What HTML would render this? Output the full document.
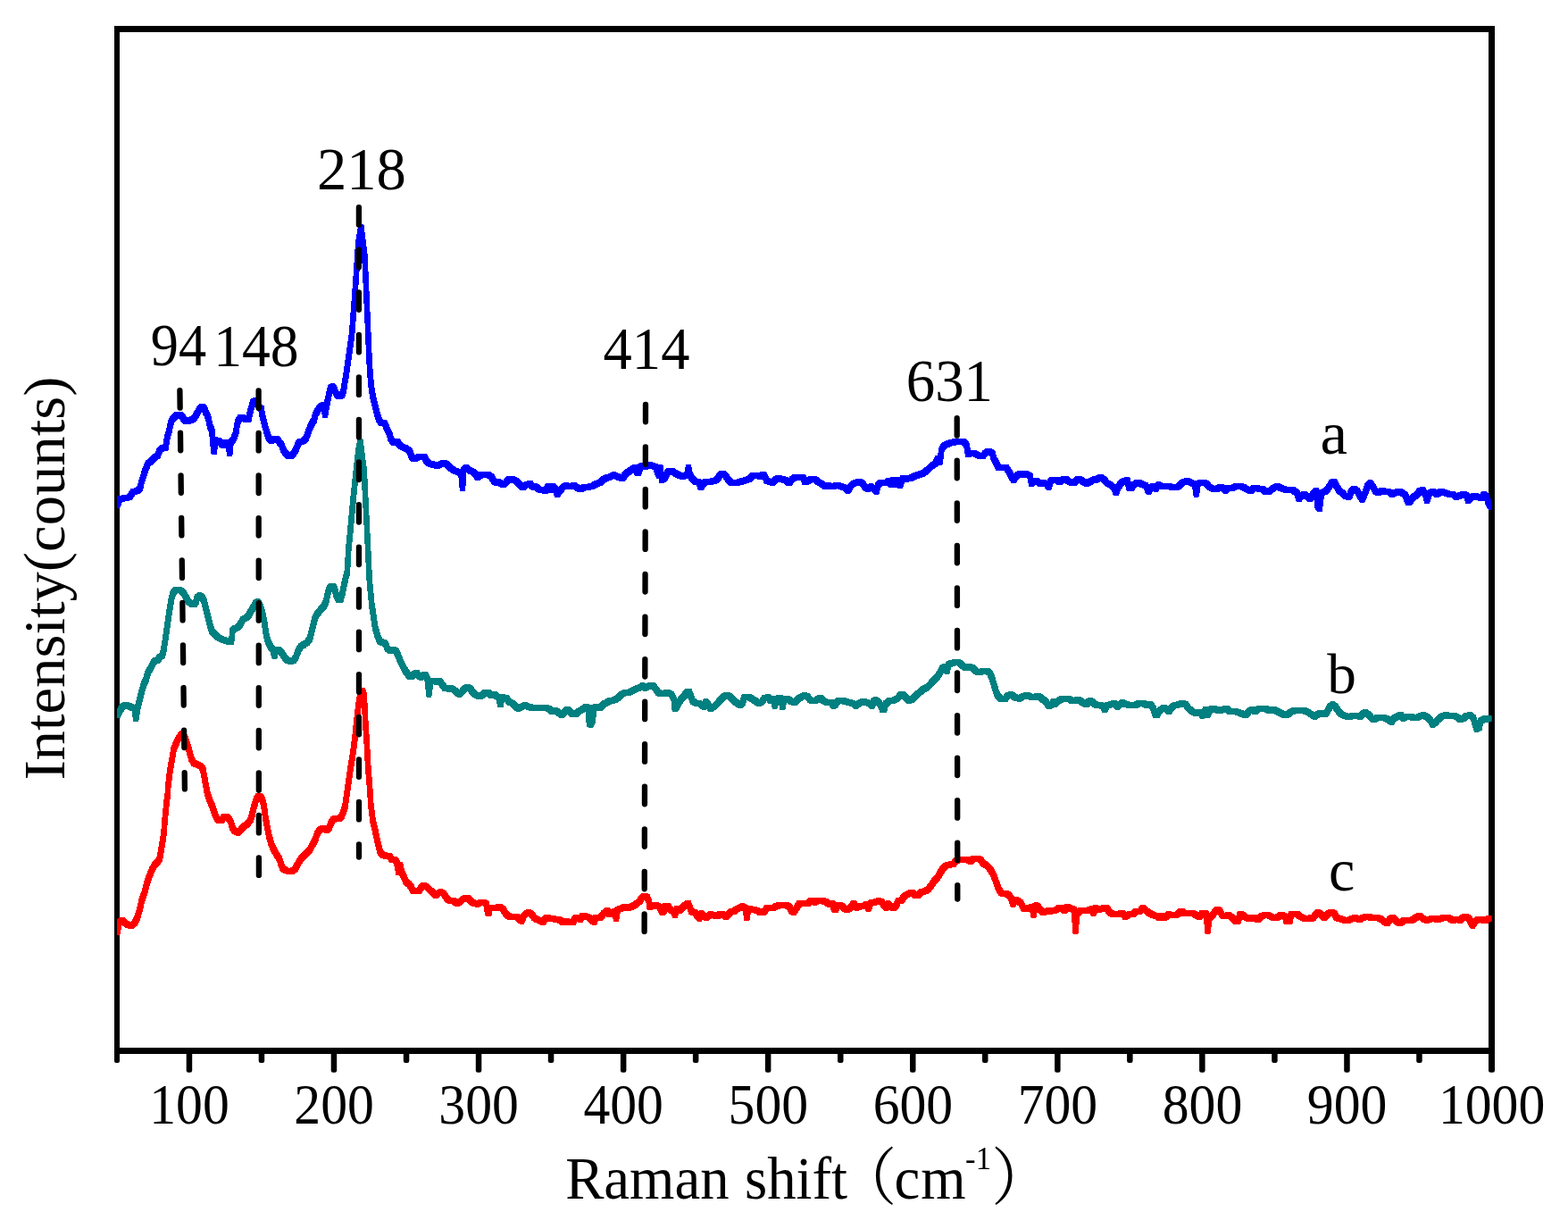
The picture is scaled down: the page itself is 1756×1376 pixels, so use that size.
<!DOCTYPE html>
<html lang="en"><head><meta charset="utf-8"><title>Raman spectra</title>
<style>
html,body{margin:0;padding:0;background:#fff;}
body{width:1756px;height:1376px;overflow:hidden;}
svg{display:block;}
text{font-family:"Liberation Serif","Noto Serif CJK SC",serif;fill:#000;}
.c{fill:none;stroke-width:2;stroke-linejoin:round;stroke-linecap:butt;}
.d{fill:none;stroke:#000;stroke-width:6.3;stroke-linecap:round;stroke-dasharray:19.5 28.05;}
</style></head><body>
<svg width="1756" height="1376" viewBox="0 0 1756 1376">
<defs><filter id="pen" filterUnits="userSpaceOnUse" x="0" y="0" width="1756" height="1376"><feMorphology operator="dilate" radius="2 2" result="d"/><feOffset in="d" dy="1" result="o"/><feMerge><feMergeNode in="d"/><feMergeNode in="o"/></feMerge><feComponentTransfer><feFuncA type="discrete" tableValues="0 1"/></feComponentTransfer></filter><clipPath id="plot"><rect x="131" y="32.5" width="1539.5" height="1144"/></clipPath></defs>
<rect width="1756" height="1376" fill="#fff"/>
<g fill="#000">
<rect x="128" y="29" width="6" height="1159" rx="0"/>
<rect x="128" y="1180" width="6" height="10" rx="2"/>
<rect x="1667" y="29" width="7" height="1168"/>
<rect x="1667" y="1180" width="7" height="20.8" rx="2.5"/>
<rect x="128" y="29" width="1546" height="7"/>
<rect x="128" y="1173" width="1546" height="7"/>
<rect x="208.7" y="1176" width="6.5" height="24.8" rx="2.2"/>
<rect x="289.7" y="1176" width="6.5" height="13.9" rx="2.2"/>
<rect x="370.7" y="1176" width="6.5" height="24.8" rx="2.2"/>
<rect x="451.8" y="1176" width="6.5" height="13.9" rx="2.2"/>
<rect x="532.8" y="1176" width="6.5" height="24.8" rx="2.2"/>
<rect x="613.8" y="1176" width="6.5" height="13.9" rx="2.2"/>
<rect x="694.9" y="1176" width="6.5" height="24.8" rx="2.2"/>
<rect x="775.9" y="1176" width="6.5" height="13.9" rx="2.2"/>
<rect x="856.9" y="1176" width="6.5" height="24.8" rx="2.2"/>
<rect x="938.0" y="1176" width="6.5" height="13.9" rx="2.2"/>
<rect x="1019.0" y="1176" width="6.5" height="24.8" rx="2.2"/>
<rect x="1100.0" y="1176" width="6.5" height="13.9" rx="2.2"/>
<rect x="1181.1" y="1176" width="6.5" height="24.8" rx="2.2"/>
<rect x="1262.1" y="1176" width="6.5" height="13.9" rx="2.2"/>
<rect x="1343.1" y="1176" width="6.5" height="24.8" rx="2.2"/>
<rect x="1424.2" y="1176" width="6.5" height="13.9" rx="2.2"/>
<rect x="1505.2" y="1176" width="6.5" height="24.8" rx="2.2"/>
<rect x="1586.2" y="1176" width="6.5" height="13.9" rx="2.2"/>
</g>
<g clip-path="url(#plot)">
<polyline fill="none" stroke-linejoin="round" stroke-width="4.6" stroke="#0000ff" points="131.5,566 133.8,558.8 141.3,557.6 145.1,556.6 149.4,550.3 154.4,549.7 157,546.6 158.2,540.3 160.7,532.8 162,527.8 163.8,524 165.7,519 170.7,515.2 173.2,512.1 176.4,510.2 178.9,504 182,501.5 185.2,502.1 186.4,495.2 187.7,487.7 189.5,482.7 190.8,475.1 192.7,470.1 195.2,467 197.7,464.5 200.8,463.9 203.9,466.4 206.5,470.1 209,472 212.7,470.8 217.1,468.9 220.2,463.9 222.1,460.1 224.6,456.3 227.1,455.1 229,457 230.3,461.4 232.8,466.4 234,471.4 235.3,477.6 237.2,481.4 237.8,487.7 238.4,495.2 239.7,505.8 241.3,492.7 245.9,493.9 248.4,497.7 250.9,498.3 252.8,495.2 255.5,496.4 257.2,507.7 258.5,495.2 261.6,491.4 264.1,485.2 265.4,476.4 266.6,471.4 269.1,467.6 271.6,467 274.7,469.5 278.5,469.5 279.8,462.6 281.6,456.3 283.5,450.1 286,448.2 287.9,451.3 290.4,456.3 292.9,457.6 293.5,463.9 295.4,471.4 297.3,478.9 299.2,485.2 301.1,490.8 303.6,493.3 306.7,492.1 310.5,491.4 313,495.2 315.5,498.3 317.4,504 319.9,507.7 323,510.2 326.1,510.2 329.3,507.1 331.8,502.7 333.6,497.7 335.5,494.6 339.3,493.9 342.5,491.4 345.6,482.7 348.8,475.1 351.9,470.1 353.2,463.9 356.3,458.8 359.4,454.5 362.4,453.8 364.1,464.5 365.8,453.8 368.2,442.6 370.1,434.4 372.6,432.5 375.1,437.5 377.6,442.6 380.1,443.8 383.2,442.6 384.9,436.3 386.2,427.5 387.6,420 394,375.3 398.3,317.2 401.2,273.6 404.4,254.4 408.5,288.1 411.1,346.3 413.6,404.4 414.6,420 415.8,432.5 417.7,445.1 420.2,455.1 422.1,462.6 424.6,470.1 426.5,473.3 430.9,473.9 433.4,480.2 435.9,485.2 437.7,491.4 440.3,495.2 444.6,493.9 447.1,497.7 450.3,500.2 454.7,502.1 459,505.2 460.9,511.5 463.4,514 466.6,512.7 469.1,511.5 475.3,511.5 477.8,516.5 481,519 485.4,520.3 490.4,521.5 494.8,519 498.5,518.4 501.7,521.5 505.4,524.6 510.4,527.8 514.8,528.4 516.7,532.8 518,546.6 519.2,526.5 522.3,523.4 525.5,526.5 529.8,528.4 533,531.5 534.9,534.7 538,532.2 541.8,530.9 546.8,531.5 550.5,534 553,538.4 555.5,540.3 557.4,539.2 560.4,540.7 563.3,542.9 566.3,540.7 569.2,537 574.4,536.7 578.1,538.5 581.8,542.2 585.5,545.9 589.2,542.9 593.7,541.4 596.6,545.1 600.3,545.1 604,548.1 608.5,548.8 610.7,549.6 613.7,544.4 615.9,548.8 618.8,544.4 621.8,547.4 624,554 626.3,550.3 630.7,545.1 633.7,543.7 638.1,544.4 643.3,543.7 647,546.6 649.9,548.1 653.6,545.9 659.6,545.1 664.7,543.7 668.4,541.4 672.9,540 676.6,536.3 679.6,534.8 683.3,534 687,531.8 690.7,533.3 694.4,534.8 697.3,535.5 700.3,531.1 704,528.1 708.4,525.1 711.4,523.7 713.6,529.6 715.1,529.6 717.3,522.2 720.3,521.4 723.2,522.2 727.7,520.7 734.5,522.9 737.8,532.5 739.5,523.7 741.2,537.7 745.4,534 747.7,528.1 752.8,527.4 756.5,530.3 760.2,531.8 763.9,533.3 769.3,532.5 771,523.7 772.7,532.5 776.5,537 779.5,540 782.5,539.2 784.7,545.9 786.9,542.9 789.9,539.2 795.8,539.2 800,538.5 803.7,536.3 806.7,531.1 809.6,530.3 812.6,532.5 815.5,537 819.2,540.7 824.4,540.7 829.6,539.2 834.8,537.7 839.2,536.3 842.9,532.5 847.4,532.5 851.1,533.3 854.8,531.1 857,534 858.5,538.5 862.2,539.2 865.1,540.7 868.1,537 871.1,535.5 875.5,536.3 880,537.7 883.7,540.7 887.4,536.3 891.1,534 895.5,534.8 899.2,534 901.4,540 904.4,538.5 908.8,536.3 913.3,537 917,540 920.7,542.2 925.1,545.1 928.1,543.7 933.3,545.1 937,542.9 940.7,544.4 945.8,545.9 949.5,549.6 952.5,544.4 955.5,541.4 959.9,540 964.3,540 967.3,542.9 969.5,546.6 972.5,547.4 975.5,544.4 978.4,547.4 981.4,550.3 983.6,542.9 986.6,540 992.5,540.7 995.4,538.5 997.7,542.2 999.9,537 1002.8,542.9 1005.1,537.7 1008,543.7 1011,535.5 1013.9,536.3 1019.1,535.5 1023.6,533.3 1028,531.8 1033.2,530.3 1038.4,526.6 1042.8,522.2 1047.3,519.2 1050.2,513.3 1052.4,517.7 1053.9,507.4 1054.1,504.4 1056.7,499.2 1061.1,497 1065.5,495.5 1070,494.8 1074.4,494.1 1079.6,494.8 1082.6,498.5 1084.1,508.9 1087.8,507.4 1092.2,508.1 1096.6,510.3 1100.3,511.1 1103.3,507.4 1107,505.2 1111.4,507.4 1112.9,513.3 1115.9,518.5 1118.1,523.7 1122.5,523.7 1126.3,522.9 1129.2,526.6 1132.2,532.5 1135.1,537.7 1137.4,534 1140.3,531.1 1144.8,530.8 1149.9,531.1 1153.6,532.5 1155.1,541.4 1158.1,538.5 1161,538.5 1164.7,541.4 1168.4,540.7 1172.1,541.4 1174.4,545.1 1176.6,538.5 1180.3,537 1184,537.7 1187,540 1189.9,537 1193.6,536.3 1197.3,539.2 1200.3,540.7 1204,540 1206.2,537 1209.2,536.3 1212.9,539.2 1217.3,541.4 1221,539.2 1224.7,537 1228.4,537 1232.1,534 1236.6,537 1239.5,540.7 1244,542.9 1247.7,546.6 1249.9,551.8 1252.1,545.9 1255.1,541.4 1258.8,538.5 1262.5,537.7 1264.7,546.6 1266.9,546.6 1270.6,542.2 1274.3,540 1278.8,542.2 1283.2,543.7 1286.2,550.3 1288.4,547.4 1291.3,544.4 1294.3,547.4 1297.3,542.9 1300,544.4 1304.4,545.1 1308.9,544.4 1313.3,545.9 1319.2,545.1 1322.9,541.4 1326.7,539.2 1330.4,538.5 1334.1,540.7 1338,541.4 1339.8,553.3 1341.5,541.4 1347.4,540 1351.1,541.4 1354,545.1 1358.5,547.4 1362.2,548.1 1366.6,545.1 1370.3,546.6 1372.5,549.6 1375.5,546.6 1380.7,545.9 1384.4,544.4 1388.8,544.4 1393.3,545.9 1397,548.1 1400.7,549.6 1404.4,546.6 1407.3,545.9 1411,548.1 1414,547.4 1417.7,551.1 1421.4,550.3 1425.9,546.6 1430.3,544.4 1434.7,546.6 1439.2,548.1 1443.6,548.5 1448.1,548.8 1452.5,551.8 1454.7,558.5 1457.7,554.8 1460.6,553.3 1464.3,556.2 1467.3,558.5 1470.3,553.3 1474,549.6 1475.5,566.6 1477.7,569.6 1479.9,551.8 1484.3,550.3 1488,545.9 1491,540.7 1494,539.2 1496.9,544.4 1499.9,549.6 1503.6,551.8 1506.5,555.5 1511,556.2 1513.2,550.3 1516.2,547.4 1519.9,549.6 1522.8,554.8 1525.8,559.2 1528.8,551.8 1531.7,543.7 1534.7,540.7 1537.6,545.1 1540.6,550.3 1543.6,551.8 1547.3,549.6 1551.7,550.3 1555.2,550.3 1558.9,553.3 1562.6,551.8 1566.3,550.3 1570,551.8 1573.7,554 1576.7,562.2 1578.9,562.2 1582.6,556.2 1586.3,554.8 1590,549.6 1593.7,548.8 1596.7,554.8 1598.2,560.7 1600.4,552.5 1604.8,550.3 1609.3,553.3 1613.7,550.3 1618.1,551.8 1622.6,553.3 1627,553.3 1630.7,556.2 1635.2,554.8 1638.9,553.3 1642.6,554.8 1644.1,560.7 1646.3,557.7 1650,555.5 1655.2,556.2 1658.9,557.7 1661.8,553.3 1664.8,556.2 1667,563.6 1670.4,568.8"/>
<polyline class="c" filter="url(#pen)" transform="translate(0,-0.5)" stroke="#0000ff" points="131.5,566 133.8,558.8 141.3,557.6 145.1,556.6 149.4,550.3 154.4,549.7 157,546.6 158.2,540.3 160.7,532.8 162,527.8 163.8,524 165.7,519 170.7,515.2 173.2,512.1 176.4,510.2 178.9,504 182,501.5 185.2,502.1 186.4,495.2 187.7,487.7 189.5,482.7 190.8,475.1 192.7,470.1 195.2,467 197.7,464.5 200.8,463.9 203.9,466.4 206.5,470.1 209,472 212.7,470.8 217.1,468.9 220.2,463.9 222.1,460.1 224.6,456.3 227.1,455.1 229,457 230.3,461.4 232.8,466.4 234,471.4 235.3,477.6 237.2,481.4 237.8,487.7 238.4,495.2 239.7,505.8 241.3,492.7 245.9,493.9 248.4,497.7 250.9,498.3 252.8,495.2 255.5,496.4 257.2,507.7 258.5,495.2 261.6,491.4 264.1,485.2 265.4,476.4 266.6,471.4 269.1,467.6 271.6,467 274.7,469.5 278.5,469.5 279.8,462.6 281.6,456.3 283.5,450.1 286,448.2 287.9,451.3 290.4,456.3 292.9,457.6 293.5,463.9 295.4,471.4 297.3,478.9 299.2,485.2 301.1,490.8 303.6,493.3 306.7,492.1 310.5,491.4 313,495.2 315.5,498.3 317.4,504 319.9,507.7 323,510.2 326.1,510.2 329.3,507.1 331.8,502.7 333.6,497.7 335.5,494.6 339.3,493.9 342.5,491.4 345.6,482.7 348.8,475.1 351.9,470.1 353.2,463.9 356.3,458.8 359.4,454.5 362.4,453.8 364.1,464.5 365.8,453.8 368.2,442.6 370.1,434.4 372.6,432.5 375.1,437.5 377.6,442.6 380.1,443.8 383.2,442.6 384.9,436.3 386.2,427.5 387.6,420 394,375.3 398.3,317.2 401.2,273.6 404.4,254.4 408.5,288.1 411.1,346.3 413.6,404.4 414.6,420 415.8,432.5 417.7,445.1 420.2,455.1 422.1,462.6 424.6,470.1 426.5,473.3 430.9,473.9 433.4,480.2 435.9,485.2 437.7,491.4 440.3,495.2 444.6,493.9 447.1,497.7 450.3,500.2 454.7,502.1 459,505.2 460.9,511.5 463.4,514 466.6,512.7 469.1,511.5 475.3,511.5 477.8,516.5 481,519 485.4,520.3 490.4,521.5 494.8,519 498.5,518.4 501.7,521.5 505.4,524.6 510.4,527.8 514.8,528.4 516.7,532.8 518,546.6 519.2,526.5 522.3,523.4 525.5,526.5 529.8,528.4 533,531.5 534.9,534.7 538,532.2 541.8,530.9 546.8,531.5 550.5,534 553,538.4 555.5,540.3 557.4,539.2 560.4,540.7 563.3,542.9 566.3,540.7 569.2,537 574.4,536.7 578.1,538.5 581.8,542.2 585.5,545.9 589.2,542.9 593.7,541.4 596.6,545.1 600.3,545.1 604,548.1 608.5,548.8 610.7,549.6 613.7,544.4 615.9,548.8 618.8,544.4 621.8,547.4 624,554 626.3,550.3 630.7,545.1 633.7,543.7 638.1,544.4 643.3,543.7 647,546.6 649.9,548.1 653.6,545.9 659.6,545.1 664.7,543.7 668.4,541.4 672.9,540 676.6,536.3 679.6,534.8 683.3,534 687,531.8 690.7,533.3 694.4,534.8 697.3,535.5 700.3,531.1 704,528.1 708.4,525.1 711.4,523.7 713.6,529.6 715.1,529.6 717.3,522.2 720.3,521.4 723.2,522.2 727.7,520.7 734.5,522.9 737.8,532.5 739.5,523.7 741.2,537.7 745.4,534 747.7,528.1 752.8,527.4 756.5,530.3 760.2,531.8 763.9,533.3 769.3,532.5 771,523.7 772.7,532.5 776.5,537 779.5,540 782.5,539.2 784.7,545.9 786.9,542.9 789.9,539.2 795.8,539.2 800,538.5 803.7,536.3 806.7,531.1 809.6,530.3 812.6,532.5 815.5,537 819.2,540.7 824.4,540.7 829.6,539.2 834.8,537.7 839.2,536.3 842.9,532.5 847.4,532.5 851.1,533.3 854.8,531.1 857,534 858.5,538.5 862.2,539.2 865.1,540.7 868.1,537 871.1,535.5 875.5,536.3 880,537.7 883.7,540.7 887.4,536.3 891.1,534 895.5,534.8 899.2,534 901.4,540 904.4,538.5 908.8,536.3 913.3,537 917,540 920.7,542.2 925.1,545.1 928.1,543.7 933.3,545.1 937,542.9 940.7,544.4 945.8,545.9 949.5,549.6 952.5,544.4 955.5,541.4 959.9,540 964.3,540 967.3,542.9 969.5,546.6 972.5,547.4 975.5,544.4 978.4,547.4 981.4,550.3 983.6,542.9 986.6,540 992.5,540.7 995.4,538.5 997.7,542.2 999.9,537 1002.8,542.9 1005.1,537.7 1008,543.7 1011,535.5 1013.9,536.3 1019.1,535.5 1023.6,533.3 1028,531.8 1033.2,530.3 1038.4,526.6 1042.8,522.2 1047.3,519.2 1050.2,513.3 1052.4,517.7 1053.9,507.4 1054.1,504.4 1056.7,499.2 1061.1,497 1065.5,495.5 1070,494.8 1074.4,494.1 1079.6,494.8 1082.6,498.5 1084.1,508.9 1087.8,507.4 1092.2,508.1 1096.6,510.3 1100.3,511.1 1103.3,507.4 1107,505.2 1111.4,507.4 1112.9,513.3 1115.9,518.5 1118.1,523.7 1122.5,523.7 1126.3,522.9 1129.2,526.6 1132.2,532.5 1135.1,537.7 1137.4,534 1140.3,531.1 1144.8,530.8 1149.9,531.1 1153.6,532.5 1155.1,541.4 1158.1,538.5 1161,538.5 1164.7,541.4 1168.4,540.7 1172.1,541.4 1174.4,545.1 1176.6,538.5 1180.3,537 1184,537.7 1187,540 1189.9,537 1193.6,536.3 1197.3,539.2 1200.3,540.7 1204,540 1206.2,537 1209.2,536.3 1212.9,539.2 1217.3,541.4 1221,539.2 1224.7,537 1228.4,537 1232.1,534 1236.6,537 1239.5,540.7 1244,542.9 1247.7,546.6 1249.9,551.8 1252.1,545.9 1255.1,541.4 1258.8,538.5 1262.5,537.7 1264.7,546.6 1266.9,546.6 1270.6,542.2 1274.3,540 1278.8,542.2 1283.2,543.7 1286.2,550.3 1288.4,547.4 1291.3,544.4 1294.3,547.4 1297.3,542.9 1300,544.4 1304.4,545.1 1308.9,544.4 1313.3,545.9 1319.2,545.1 1322.9,541.4 1326.7,539.2 1330.4,538.5 1334.1,540.7 1338,541.4 1339.8,553.3 1341.5,541.4 1347.4,540 1351.1,541.4 1354,545.1 1358.5,547.4 1362.2,548.1 1366.6,545.1 1370.3,546.6 1372.5,549.6 1375.5,546.6 1380.7,545.9 1384.4,544.4 1388.8,544.4 1393.3,545.9 1397,548.1 1400.7,549.6 1404.4,546.6 1407.3,545.9 1411,548.1 1414,547.4 1417.7,551.1 1421.4,550.3 1425.9,546.6 1430.3,544.4 1434.7,546.6 1439.2,548.1 1443.6,548.5 1448.1,548.8 1452.5,551.8 1454.7,558.5 1457.7,554.8 1460.6,553.3 1464.3,556.2 1467.3,558.5 1470.3,553.3 1474,549.6 1475.5,566.6 1477.7,569.6 1479.9,551.8 1484.3,550.3 1488,545.9 1491,540.7 1494,539.2 1496.9,544.4 1499.9,549.6 1503.6,551.8 1506.5,555.5 1511,556.2 1513.2,550.3 1516.2,547.4 1519.9,549.6 1522.8,554.8 1525.8,559.2 1528.8,551.8 1531.7,543.7 1534.7,540.7 1537.6,545.1 1540.6,550.3 1543.6,551.8 1547.3,549.6 1551.7,550.3 1555.2,550.3 1558.9,553.3 1562.6,551.8 1566.3,550.3 1570,551.8 1573.7,554 1576.7,562.2 1578.9,562.2 1582.6,556.2 1586.3,554.8 1590,549.6 1593.7,548.8 1596.7,554.8 1598.2,560.7 1600.4,552.5 1604.8,550.3 1609.3,553.3 1613.7,550.3 1618.1,551.8 1622.6,553.3 1627,553.3 1630.7,556.2 1635.2,554.8 1638.9,553.3 1642.6,554.8 1644.1,560.7 1646.3,557.7 1650,555.5 1655.2,556.2 1658.9,557.7 1661.8,553.3 1664.8,556.2 1667,563.6 1670.4,568.8"/>
<polyline fill="none" stroke-linejoin="round" stroke-width="4.6" stroke="#008080" points="131.5,801.7 133.8,796.6 136.9,791.6 140.7,789.1 144.4,790.4 148.2,792.3 150.7,792.9 152.2,804.8 153.9,794.1 155.7,786.6 157.6,779.1 159.5,771.6 161.3,765.3 163.8,760.3 165.7,752.8 168.2,749 170.7,744 172.6,740.3 176.4,739 179.5,735.2 182,733.4 183.3,727.7 184.5,720.2 185.8,711.4 187,702.7 188.3,693.9 189.5,685.1 190.8,677.6 192,670.1 193.9,663.8 196.4,660.7 199.6,660.1 202.7,661.3 205.8,664.4 208.3,668.8 210.8,673.2 214,675.7 217.7,677 219.6,673.8 220.9,668.8 223.4,666.9 225.9,668.2 228.4,672.6 230.3,680.1 232.1,687.6 234,695.1 235.9,702.7 237.8,707.7 241.5,710.8 244.7,713.9 248.4,715.8 252.8,717.1 256,718.3 258.5,718.9 259.7,713.9 260.3,706.4 262.2,703.9 266,702.7 268.5,700.2 270.4,696.4 272.2,693.3 276,691.4 278.5,688.9 280.4,685.1 282.9,681.4 284.8,677.6 286.7,674.5 288.5,673.8 290.4,676.3 292.3,681.4 294.2,687.6 296.1,696.4 297.3,705.2 298.6,712.7 300.4,718.9 302.9,724 305.7,727.1 307.4,734.6 309.1,727.7 311.7,727.1 314.2,729 316.7,732.7 319.2,736.5 322.4,739.6 325.5,740.3 328.6,739.6 331.1,736.5 333,731.5 334.9,726.5 337.4,723.3 339.9,722.3 340,721.5 343.8,719.6 346.9,715.2 348.8,707.7 350.7,700.2 352.5,692.6 355,687.6 358.8,683.2 362.6,678.8 365.1,673.8 366.3,667.6 368.2,660.1 370.7,656.3 373.2,656.3 375.1,660.1 377,667.6 378.8,671.3 381.4,671.3 383.2,665.1 385.1,656.3 387,647.5 388.9,640 390.3,615.3 393.1,586.3 395.7,557.2 398.8,528.1 401.2,506.3 403.4,494.4 407.8,528.1 409.2,557.2 410.7,586.3 412.1,615.3 413.3,640 413.9,652.5 415.2,665.1 416.4,677.6 418.3,690.1 420.2,702.7 422.7,711.4 425.2,717.7 428.3,719.6 431.5,720.2 434,726.5 437.1,728.3 440.3,727.7 443.4,728.3 445.9,734 448.4,740.3 451.5,746.5 454.7,752.2 457.8,756.5 460.3,757.8 463.4,754.7 466.6,753.4 469.1,756.5 471.6,758.4 474.1,755.9 476.6,755.3 478.7,760.3 480.4,777.2 482.1,762.8 485.4,762.2 489.1,763.4 492.3,762.8 495.4,766.6 497.9,770.3 501.7,771 506.7,771 510.4,774.1 514.2,777.2 516.7,775.3 519.8,771.6 523,769.7 526.1,770.3 529.2,774.7 532.4,777.8 536.7,779.7 540.5,778.5 543.6,775.3 546.8,775.3 549.9,778.5 554.3,777.8 558.8,781.6 560.5,789.1 562.2,780.7 567,781.4 570,785.9 574.4,787.4 577.4,791.1 580.4,793.3 584.1,791.1 588.5,789.6 592.9,791.8 597.4,792.5 603.3,792.5 609.2,792.5 614.4,793.3 618.1,796.3 622.5,795.5 626.3,798.5 629.2,800.7 632.9,797 635.9,794 638.8,797 641.8,800 645.5,799.2 648.5,796.3 652.9,794 656.6,791.1 658.8,792.5 659.9,810.3 661.8,811.1 663.7,807.4 665.2,792.5 668.4,791.1 672.1,792.5 675.9,788.1 679.6,786.6 683.3,784.4 688.4,783.7 692.1,781.4 695.8,777.7 699.5,775.5 704,775.5 708.4,773.3 712.9,771.1 717.3,769.6 719.5,767.4 722.5,770.3 726.9,768.1 730.6,767.4 734.3,771.1 737.3,775.5 740.3,777 744,776.3 748.4,775.5 752.1,777.7 755.1,783.7 755.8,794 758,791.1 760.2,786.6 763.2,782.2 766.2,779.2 769.1,774.8 771.4,774 773.6,779.2 775.8,785.1 779.5,787.4 783.2,787.4 786.2,790.3 788.4,791.1 790.6,785.9 793.6,789.6 795.8,793.3 799.5,791.1 800,791.1 803.7,787.4 807.4,782.9 811.1,779.2 814.8,778.5 818.5,780.7 822.2,785.1 825.9,787.4 828.9,789.6 831.8,786.6 833.3,780.7 838.5,780.4 842.9,782.9 846.6,785.1 849.6,787.4 853.3,785.9 856.3,781.4 860,780.7 862.9,784.4 866,782.2 867.7,790.3 869.4,782.2 874.7,781.4 876.4,791.8 878.1,782.9 882.9,782.9 885.9,785.1 889.6,786.6 893.3,782.9 897,780.7 900.7,778.5 904.4,780 907.3,783.7 911,784.4 914.7,783.7 918.4,781.4 922.1,784.4 925.9,786.6 931,785.9 933.3,790.3 935.5,789.6 937.7,785.1 941.4,784.4 945.8,785.1 951,786.6 955.5,787.4 958.4,790.3 962.1,787.4 966.6,785.1 971,786.6 974.7,788.1 976.9,790.3 978.4,784.4 980.6,783.7 984.3,786.6 987.3,791.1 988.3,794.8 990.3,794 991.7,788.1 995.4,785.1 999.9,784.4 1005.1,782.2 1008.8,777.7 1011.7,777.7 1014.7,781.4 1017.6,784.4 1022.1,782.9 1025.1,779.2 1029.5,775.5 1033.9,771.8 1038.4,769.6 1042.1,765.9 1045.8,761.5 1050.2,757 1053,752.6 1055.9,747.4 1058.1,746.7 1060.4,751.1 1062.6,743.7 1066.3,742.2 1070.7,741.5 1075.2,742.2 1078.1,745.2 1081.1,747.4 1085.5,746.7 1089.2,747.4 1092.2,751.1 1095.9,752.6 1100.3,751.8 1104.8,751.1 1108.5,753.3 1110.7,758.5 1112.9,765.9 1115.1,773.3 1117.4,779.2 1121.1,782.2 1125.5,782.9 1128.5,778.5 1132.2,777.7 1136.6,780.7 1141.8,782.2 1146.2,779.2 1150.7,778.5 1155.1,780.7 1159.6,780 1164,780 1167.7,782.9 1171.4,785.9 1174.4,790.3 1177.3,789.6 1179.6,785.9 1181.8,788.1 1184.7,785.1 1188.4,782.9 1192.9,782.2 1196.6,782.2 1200.3,784.4 1204,785.1 1206.9,782.9 1209.9,784.4 1213.6,787.4 1216.6,788.8 1219.5,785.1 1222.5,785.1 1226.2,788.8 1230.6,789.6 1235.1,790.3 1237.3,794.8 1239.5,789.6 1244,788.8 1248.4,787.4 1251.4,791.1 1254.3,788.8 1257.3,786.6 1261,788.8 1266.2,789.6 1271.4,789.6 1275.8,787.4 1280.2,787.4 1283.9,789.6 1288.4,788.8 1291.3,792.5 1293.6,800 1295.8,800.7 1298.7,795.5 1300,794.8 1303,792.5 1306.7,794 1308.9,797 1311.8,792.5 1315.5,789.6 1320,788.8 1324.4,787.4 1328.1,788.8 1331.1,793.3 1334.8,796.3 1339.2,798.5 1344.4,797 1346.6,801.4 1350.3,794 1352.6,800.7 1355.5,794 1360.7,794 1365.1,795.5 1369.6,794.8 1373.3,793.3 1376.3,796.3 1380.7,796.3 1385.1,797 1389.6,798.5 1393.3,800 1396.2,800 1398.5,796.3 1402.2,794.8 1405.1,797 1408.8,794 1414,793.3 1418.4,794 1422.1,795.5 1425.9,794 1430.3,796.3 1434.7,798.5 1438.4,800.7 1442.1,800 1445.8,797 1449.5,795.5 1455.5,795.5 1459.9,795.5 1464.3,797 1468.8,800 1472.5,802.2 1476.2,799.2 1479.9,798.5 1483.6,800 1486.6,796.3 1489.5,791.1 1492.5,788.8 1495.4,791.1 1498.4,795.5 1501.4,799.2 1505.8,801.4 1510.2,802.9 1514.7,801.4 1519.1,801.4 1523.6,802.2 1526.5,798.5 1529.5,797.7 1533.2,800.7 1536.9,805.1 1538.9,805.9 1541.9,803.7 1547.1,802.9 1552.3,804.4 1555.2,805.9 1558.2,808.1 1561.1,804.4 1564.8,802.2 1568.5,800 1571.5,804.4 1575.2,802.2 1579.7,802.2 1583.4,803.7 1587.8,802.9 1591.5,801.4 1594.5,800.7 1598.2,802.9 1601.9,805.9 1604.1,811.1 1607,809.6 1610,805.9 1614.4,802.2 1618.9,800.7 1623.3,801.4 1627.8,801.4 1632.2,802.9 1635.2,805.9 1638.9,804.4 1642.6,801.4 1646.3,800.7 1650,803.7 1652.2,811.8 1653.7,816.2 1656.6,814.8 1658.1,807.4 1661.8,805.1 1666.3,805.1 1670.7,803.7"/>
<polyline class="c" filter="url(#pen)" transform="translate(0,-0.5)" stroke="#008080" points="131.5,801.7 133.8,796.6 136.9,791.6 140.7,789.1 144.4,790.4 148.2,792.3 150.7,792.9 152.2,804.8 153.9,794.1 155.7,786.6 157.6,779.1 159.5,771.6 161.3,765.3 163.8,760.3 165.7,752.8 168.2,749 170.7,744 172.6,740.3 176.4,739 179.5,735.2 182,733.4 183.3,727.7 184.5,720.2 185.8,711.4 187,702.7 188.3,693.9 189.5,685.1 190.8,677.6 192,670.1 193.9,663.8 196.4,660.7 199.6,660.1 202.7,661.3 205.8,664.4 208.3,668.8 210.8,673.2 214,675.7 217.7,677 219.6,673.8 220.9,668.8 223.4,666.9 225.9,668.2 228.4,672.6 230.3,680.1 232.1,687.6 234,695.1 235.9,702.7 237.8,707.7 241.5,710.8 244.7,713.9 248.4,715.8 252.8,717.1 256,718.3 258.5,718.9 259.7,713.9 260.3,706.4 262.2,703.9 266,702.7 268.5,700.2 270.4,696.4 272.2,693.3 276,691.4 278.5,688.9 280.4,685.1 282.9,681.4 284.8,677.6 286.7,674.5 288.5,673.8 290.4,676.3 292.3,681.4 294.2,687.6 296.1,696.4 297.3,705.2 298.6,712.7 300.4,718.9 302.9,724 305.7,727.1 307.4,734.6 309.1,727.7 311.7,727.1 314.2,729 316.7,732.7 319.2,736.5 322.4,739.6 325.5,740.3 328.6,739.6 331.1,736.5 333,731.5 334.9,726.5 337.4,723.3 339.9,722.3 340,721.5 343.8,719.6 346.9,715.2 348.8,707.7 350.7,700.2 352.5,692.6 355,687.6 358.8,683.2 362.6,678.8 365.1,673.8 366.3,667.6 368.2,660.1 370.7,656.3 373.2,656.3 375.1,660.1 377,667.6 378.8,671.3 381.4,671.3 383.2,665.1 385.1,656.3 387,647.5 388.9,640 390.3,615.3 393.1,586.3 395.7,557.2 398.8,528.1 401.2,506.3 403.4,494.4 407.8,528.1 409.2,557.2 410.7,586.3 412.1,615.3 413.3,640 413.9,652.5 415.2,665.1 416.4,677.6 418.3,690.1 420.2,702.7 422.7,711.4 425.2,717.7 428.3,719.6 431.5,720.2 434,726.5 437.1,728.3 440.3,727.7 443.4,728.3 445.9,734 448.4,740.3 451.5,746.5 454.7,752.2 457.8,756.5 460.3,757.8 463.4,754.7 466.6,753.4 469.1,756.5 471.6,758.4 474.1,755.9 476.6,755.3 478.7,760.3 480.4,777.2 482.1,762.8 485.4,762.2 489.1,763.4 492.3,762.8 495.4,766.6 497.9,770.3 501.7,771 506.7,771 510.4,774.1 514.2,777.2 516.7,775.3 519.8,771.6 523,769.7 526.1,770.3 529.2,774.7 532.4,777.8 536.7,779.7 540.5,778.5 543.6,775.3 546.8,775.3 549.9,778.5 554.3,777.8 558.8,781.6 560.5,789.1 562.2,780.7 567,781.4 570,785.9 574.4,787.4 577.4,791.1 580.4,793.3 584.1,791.1 588.5,789.6 592.9,791.8 597.4,792.5 603.3,792.5 609.2,792.5 614.4,793.3 618.1,796.3 622.5,795.5 626.3,798.5 629.2,800.7 632.9,797 635.9,794 638.8,797 641.8,800 645.5,799.2 648.5,796.3 652.9,794 656.6,791.1 658.8,792.5 659.9,810.3 661.8,811.1 663.7,807.4 665.2,792.5 668.4,791.1 672.1,792.5 675.9,788.1 679.6,786.6 683.3,784.4 688.4,783.7 692.1,781.4 695.8,777.7 699.5,775.5 704,775.5 708.4,773.3 712.9,771.1 717.3,769.6 719.5,767.4 722.5,770.3 726.9,768.1 730.6,767.4 734.3,771.1 737.3,775.5 740.3,777 744,776.3 748.4,775.5 752.1,777.7 755.1,783.7 755.8,794 758,791.1 760.2,786.6 763.2,782.2 766.2,779.2 769.1,774.8 771.4,774 773.6,779.2 775.8,785.1 779.5,787.4 783.2,787.4 786.2,790.3 788.4,791.1 790.6,785.9 793.6,789.6 795.8,793.3 799.5,791.1 800,791.1 803.7,787.4 807.4,782.9 811.1,779.2 814.8,778.5 818.5,780.7 822.2,785.1 825.9,787.4 828.9,789.6 831.8,786.6 833.3,780.7 838.5,780.4 842.9,782.9 846.6,785.1 849.6,787.4 853.3,785.9 856.3,781.4 860,780.7 862.9,784.4 866,782.2 867.7,790.3 869.4,782.2 874.7,781.4 876.4,791.8 878.1,782.9 882.9,782.9 885.9,785.1 889.6,786.6 893.3,782.9 897,780.7 900.7,778.5 904.4,780 907.3,783.7 911,784.4 914.7,783.7 918.4,781.4 922.1,784.4 925.9,786.6 931,785.9 933.3,790.3 935.5,789.6 937.7,785.1 941.4,784.4 945.8,785.1 951,786.6 955.5,787.4 958.4,790.3 962.1,787.4 966.6,785.1 971,786.6 974.7,788.1 976.9,790.3 978.4,784.4 980.6,783.7 984.3,786.6 987.3,791.1 988.3,794.8 990.3,794 991.7,788.1 995.4,785.1 999.9,784.4 1005.1,782.2 1008.8,777.7 1011.7,777.7 1014.7,781.4 1017.6,784.4 1022.1,782.9 1025.1,779.2 1029.5,775.5 1033.9,771.8 1038.4,769.6 1042.1,765.9 1045.8,761.5 1050.2,757 1053,752.6 1055.9,747.4 1058.1,746.7 1060.4,751.1 1062.6,743.7 1066.3,742.2 1070.7,741.5 1075.2,742.2 1078.1,745.2 1081.1,747.4 1085.5,746.7 1089.2,747.4 1092.2,751.1 1095.9,752.6 1100.3,751.8 1104.8,751.1 1108.5,753.3 1110.7,758.5 1112.9,765.9 1115.1,773.3 1117.4,779.2 1121.1,782.2 1125.5,782.9 1128.5,778.5 1132.2,777.7 1136.6,780.7 1141.8,782.2 1146.2,779.2 1150.7,778.5 1155.1,780.7 1159.6,780 1164,780 1167.7,782.9 1171.4,785.9 1174.4,790.3 1177.3,789.6 1179.6,785.9 1181.8,788.1 1184.7,785.1 1188.4,782.9 1192.9,782.2 1196.6,782.2 1200.3,784.4 1204,785.1 1206.9,782.9 1209.9,784.4 1213.6,787.4 1216.6,788.8 1219.5,785.1 1222.5,785.1 1226.2,788.8 1230.6,789.6 1235.1,790.3 1237.3,794.8 1239.5,789.6 1244,788.8 1248.4,787.4 1251.4,791.1 1254.3,788.8 1257.3,786.6 1261,788.8 1266.2,789.6 1271.4,789.6 1275.8,787.4 1280.2,787.4 1283.9,789.6 1288.4,788.8 1291.3,792.5 1293.6,800 1295.8,800.7 1298.7,795.5 1300,794.8 1303,792.5 1306.7,794 1308.9,797 1311.8,792.5 1315.5,789.6 1320,788.8 1324.4,787.4 1328.1,788.8 1331.1,793.3 1334.8,796.3 1339.2,798.5 1344.4,797 1346.6,801.4 1350.3,794 1352.6,800.7 1355.5,794 1360.7,794 1365.1,795.5 1369.6,794.8 1373.3,793.3 1376.3,796.3 1380.7,796.3 1385.1,797 1389.6,798.5 1393.3,800 1396.2,800 1398.5,796.3 1402.2,794.8 1405.1,797 1408.8,794 1414,793.3 1418.4,794 1422.1,795.5 1425.9,794 1430.3,796.3 1434.7,798.5 1438.4,800.7 1442.1,800 1445.8,797 1449.5,795.5 1455.5,795.5 1459.9,795.5 1464.3,797 1468.8,800 1472.5,802.2 1476.2,799.2 1479.9,798.5 1483.6,800 1486.6,796.3 1489.5,791.1 1492.5,788.8 1495.4,791.1 1498.4,795.5 1501.4,799.2 1505.8,801.4 1510.2,802.9 1514.7,801.4 1519.1,801.4 1523.6,802.2 1526.5,798.5 1529.5,797.7 1533.2,800.7 1536.9,805.1 1538.9,805.9 1541.9,803.7 1547.1,802.9 1552.3,804.4 1555.2,805.9 1558.2,808.1 1561.1,804.4 1564.8,802.2 1568.5,800 1571.5,804.4 1575.2,802.2 1579.7,802.2 1583.4,803.7 1587.8,802.9 1591.5,801.4 1594.5,800.7 1598.2,802.9 1601.9,805.9 1604.1,811.1 1607,809.6 1610,805.9 1614.4,802.2 1618.9,800.7 1623.3,801.4 1627.8,801.4 1632.2,802.9 1635.2,805.9 1638.9,804.4 1642.6,801.4 1646.3,800.7 1650,803.7 1652.2,811.8 1653.7,816.2 1656.6,814.8 1658.1,807.4 1661.8,805.1 1666.3,805.1 1670.7,803.7"/>
<polyline fill="none" stroke-linejoin="round" stroke-width="4.6" stroke="#ff0000" points="131.5,1044.1 132.8,1035.3 134.4,1031.6 136.3,1030.3 138.8,1032.2 141.9,1034.7 145.1,1036 147.6,1036 150.7,1033.5 153.2,1029.1 155.1,1022.8 157,1016.5 158.2,1010.3 160.1,1004 162,999 163.8,991.5 165.7,985.2 168.2,978.9 170.7,972.7 173.2,968.3 176.4,965.2 178.9,961.4 180.1,953.9 181.4,946.4 182.6,938.8 183.9,928.8 184.5,918.8 185.4,910 186.4,900 187.7,890.2 188.3,880.2 189.5,870.2 190.8,860.2 192.7,850.1 194.5,838.8 197.7,831.3 200.2,826.3 203.3,821.9 205.8,823.8 208.3,828.8 210.8,836.3 212.7,843.9 214.6,850.1 217.1,854.5 220.9,855.8 224.6,857.6 227.1,860.2 228.4,867.7 230.3,877.7 232.1,887.7 234.6,895.2 237.8,902.8 240.3,910.3 242.8,916.5 245.9,919 248.4,918.4 250.3,914.7 253.4,914 256,915.9 258.5,920.3 260.3,926.6 262.8,930.3 266.6,932.2 269.7,929.1 272.9,925.3 276.6,922.8 280.4,918.4 282.3,912.8 283.5,906.5 285.4,900.3 287.3,894 289.8,890.9 292.3,892.1 294.2,896.5 296.1,905.3 297.3,915.3 299.2,925.3 301.1,935.3 303.6,944.1 306.7,951.6 310.5,957.9 313,961.7 314.8,967.9 316.7,972.7 320.5,974.6 324.2,975.8 327.4,975.2 330.5,972.7 333,968.3 335.5,963.9 338,960.2 339.9,958.9 340,958.3 343.1,955.8 346.9,951.4 350,945.7 353.2,940.1 355,933.8 357.5,930.1 360.7,927.6 363.8,928.2 366.3,929.4 368.8,926.3 370.7,921.3 373.2,917.5 376.3,916.3 380.1,916.3 382.6,913.8 384.5,908.8 386.4,903.8 388.1,891 389.6,880.8 391,870.6 392.8,859 394.7,847.4 396.1,837.2 397.6,825.6 399,811 400.5,798 401.9,786.3 404.1,776.2 405.9,773 407.8,779.1 408.5,793.6 409.2,808.1 410.2,822.7 411.1,837.2 411.8,851.7 412.8,866.3 414,880.8 415,895.3 415.2,900 416.4,910 417.7,920.1 420.2,930.1 422.1,938.8 424,947.6 425.8,953.9 429,957.6 432.7,958.3 436.5,958.9 439,962.7 442.1,962.7 444,963.9 446.4,977.1 448.1,968.3 449.8,976.4 452.8,982.7 454.7,987.7 457.8,989.6 460.3,992.7 462.2,997.1 465.3,997.7 469.7,997.1 472.2,992.7 474.7,991.5 477.8,992.7 481,995.9 484.1,999 487.9,1002.8 490.4,1000.3 493.5,999 496.6,1000.3 499.1,1004 501.7,1007.8 505.4,1008.4 508.5,1009 511.7,1011.5 515.4,1009.6 518.6,1006.5 522.3,1005.3 525.5,1006.5 528,1009.6 531.7,1011.5 534.9,1012.2 538,1010.3 541.8,1010.3 544.9,1012.2 546.1,1021.6 547.4,1022.8 548.6,1016.5 553,1016.5 557.4,1015.9 559.6,1015.5 563.3,1017.7 566.3,1022.9 570,1025.9 574.4,1026.6 579.6,1026.6 581.8,1029.6 584.1,1031.1 586.3,1025.9 589.2,1022.9 592.2,1021.4 595.2,1023.7 598.1,1027.4 601.8,1029.6 605.5,1031.1 608.5,1032.5 610.7,1028.1 615.1,1028.1 619.6,1028.8 624,1029.6 627.7,1030.3 630,1032.5 634.4,1031.8 638.8,1032.5 641.8,1032.5 644,1028.1 647.7,1027.4 649.9,1029.6 652.2,1025.1 655.9,1025.9 660.3,1027.4 663.3,1031.1 665.5,1032.5 667,1027.4 670.7,1028.1 673.6,1025.9 676.6,1022.2 680.3,1019.2 682.5,1023.7 686.2,1022.9 688.2,1020 690,1028.8 691.7,1018.5 695.8,1017 699.5,1015.5 704,1016.3 708.4,1014.8 712.9,1011.8 716.6,1008.8 718.8,1005.1 721.8,1002.9 724.7,1004.4 726.9,1009.6 727.7,1015.5 731.4,1014 735.1,1013.3 738.8,1015.5 741.7,1021.4 743.2,1020.7 745.4,1014 748.4,1014.8 751.4,1019.2 754.3,1020.7 755.8,1024.4 758,1017 761,1020 763.9,1017 767.6,1013.3 770.6,1011.1 772.8,1016.3 774.3,1020.7 778,1021.4 781,1025.9 783.2,1028.1 785.4,1022.9 788.4,1025.9 791.3,1027.4 795.8,1023.7 800,1025.1 803.7,1025.9 806.7,1022.9 809.6,1023.7 812.6,1026.6 815.5,1023.7 818.5,1020.7 822.2,1020.7 825.2,1017.7 828.9,1016.3 831.8,1014.8 834.8,1016.3 836.4,1028.1 838.1,1017 842.2,1018.5 847.4,1019.2 851.1,1021.4 855.5,1021.4 858.5,1017 862.2,1016.3 865.1,1017 868.8,1014.8 874,1013.3 880,1013.3 883.7,1014.8 886.6,1020 888.8,1021.4 891.8,1017 895.5,1011.1 899.9,1011.8 904.4,1011.8 908.8,1008.1 912.5,1010.3 917,1008.1 921.4,1008.8 925.1,1009.6 928.8,1012.5 932.5,1011.1 934,1017.7 936.2,1018.5 937.7,1013.3 942.1,1014 945.8,1017.7 949.5,1018.5 953.2,1015.5 956.2,1011.1 959.2,1016.3 962.9,1014.8 967.3,1014.8 970.3,1012.5 972.5,1017 975.5,1010.3 979.2,1010.3 983.6,1008.8 987.3,1009.6 990.3,1014 992.5,1016.3 994.7,1011.8 997.7,1014.8 1000.6,1017 1003.6,1014 1005.8,1008.8 1009.5,1008.1 1013.2,1002.9 1017.6,1000.7 1021.4,999.2 1025.1,1002.2 1028.8,1002.2 1031.7,998.5 1036.2,997.7 1039.9,995.5 1043.6,990.3 1046.5,985.9 1050.2,982.2 1053,977 1055.9,972.6 1059.6,968.9 1064.1,968.1 1067.8,967.4 1070.7,963.7 1075.2,962.2 1079.6,962.2 1083.3,962.2 1087,964.4 1090,961.5 1094.4,961.5 1098.1,962.2 1101.1,966.7 1104.8,968.9 1108.5,972.6 1112.2,978.5 1114.4,984.4 1116.6,990.3 1118.8,996.3 1121.8,1000 1124.8,1000.7 1127,1000.7 1130.7,1002.9 1132.9,1006.6 1134.4,1012.5 1136.6,1008.1 1139.6,1008.1 1143.3,1011.1 1146.2,1017 1149.2,1017.7 1152.9,1016.3 1155.8,1015.5 1157.5,1024.4 1159.3,1014 1161.8,1014 1164.7,1018.5 1168.4,1021.4 1172.9,1020 1177.3,1020 1181.8,1019.2 1185.5,1017 1189.2,1016.3 1192.1,1019.2 1195.1,1015.5 1198.8,1017 1202.8,1018.5 1204.5,1042.2 1206.2,1022.9 1210.6,1019.2 1214.3,1020 1218.8,1019.2 1222.5,1017.7 1224.7,1022.2 1226.9,1016.3 1230.6,1018.5 1235.1,1017 1239.5,1016.3 1242.5,1021.4 1245.4,1022.9 1249.9,1023.7 1254.3,1022.9 1257.3,1022.2 1260.2,1026.6 1263.2,1024.4 1266.2,1022.9 1269.1,1023.7 1272.8,1020 1276.5,1020.7 1280.2,1016.3 1283.2,1019.2 1286.9,1022.2 1291.3,1024.4 1295.8,1025.9 1298,1028.1 1300,1025.1 1304.4,1027.4 1308.9,1023.7 1313.3,1025.1 1318.5,1023.7 1322.9,1020 1326.7,1022.9 1331.1,1022.2 1335.5,1022.2 1339.2,1024.4 1342.9,1026.6 1346.6,1022.2 1350.8,1022.9 1352.5,1042.2 1354.2,1028.8 1359.2,1022.9 1362.9,1018.5 1365.9,1019.2 1368.8,1025.1 1372.5,1025.9 1375.5,1024.4 1380,1027.4 1383.7,1031.8 1386.6,1031.1 1388.8,1022.9 1391.8,1024.4 1395.5,1027.4 1399.9,1028.8 1404.4,1027.4 1408.8,1029.6 1412.5,1025.9 1417,1024.4 1421.4,1025.1 1425.9,1027.4 1430.3,1027.4 1434.7,1024.4 1439.2,1025.9 1440.7,1031.8 1444.4,1031.8 1445.8,1023.7 1449.5,1022.9 1453.2,1023.7 1456.9,1026.6 1462.1,1028.8 1466.6,1028.1 1470.3,1028.1 1473.2,1024.4 1476.2,1021.4 1479.9,1024.4 1482.9,1027.4 1486.6,1023.7 1490.3,1021.4 1494,1022.2 1496.9,1027.4 1500.6,1028.8 1504.3,1029.6 1508.8,1031.1 1513.2,1028.8 1517.6,1027.4 1522.1,1029.6 1526.5,1027.4 1532.5,1025.9 1536.9,1028.1 1540.6,1027.4 1541.9,1027.4 1546.3,1028.8 1550,1031.8 1553.7,1034 1556.7,1028.8 1559.7,1027.4 1563.4,1031.1 1567.8,1034 1571.5,1031.1 1576,1030.3 1581.1,1030.3 1585.6,1027.4 1590,1025.1 1593.7,1028.8 1598.2,1030.3 1602.6,1028.8 1606.3,1028.1 1610,1029.6 1614.4,1028.1 1618.9,1027.4 1623.3,1028.1 1627,1030.3 1631.5,1029.6 1635.2,1030.3 1638.1,1027.4 1641.1,1025.9 1644.8,1028.1 1647,1031.8 1649.2,1036.2 1651.5,1031.8 1655.2,1029.6 1658.9,1029.6 1662.6,1031.1 1666.3,1028.8 1670.7,1028.1"/>
<polyline class="c" filter="url(#pen)" transform="translate(0,-0.5)" stroke="#ff0000" points="131.5,1044.1 132.8,1035.3 134.4,1031.6 136.3,1030.3 138.8,1032.2 141.9,1034.7 145.1,1036 147.6,1036 150.7,1033.5 153.2,1029.1 155.1,1022.8 157,1016.5 158.2,1010.3 160.1,1004 162,999 163.8,991.5 165.7,985.2 168.2,978.9 170.7,972.7 173.2,968.3 176.4,965.2 178.9,961.4 180.1,953.9 181.4,946.4 182.6,938.8 183.9,928.8 184.5,918.8 185.4,910 186.4,900 187.7,890.2 188.3,880.2 189.5,870.2 190.8,860.2 192.7,850.1 194.5,838.8 197.7,831.3 200.2,826.3 203.3,821.9 205.8,823.8 208.3,828.8 210.8,836.3 212.7,843.9 214.6,850.1 217.1,854.5 220.9,855.8 224.6,857.6 227.1,860.2 228.4,867.7 230.3,877.7 232.1,887.7 234.6,895.2 237.8,902.8 240.3,910.3 242.8,916.5 245.9,919 248.4,918.4 250.3,914.7 253.4,914 256,915.9 258.5,920.3 260.3,926.6 262.8,930.3 266.6,932.2 269.7,929.1 272.9,925.3 276.6,922.8 280.4,918.4 282.3,912.8 283.5,906.5 285.4,900.3 287.3,894 289.8,890.9 292.3,892.1 294.2,896.5 296.1,905.3 297.3,915.3 299.2,925.3 301.1,935.3 303.6,944.1 306.7,951.6 310.5,957.9 313,961.7 314.8,967.9 316.7,972.7 320.5,974.6 324.2,975.8 327.4,975.2 330.5,972.7 333,968.3 335.5,963.9 338,960.2 339.9,958.9 340,958.3 343.1,955.8 346.9,951.4 350,945.7 353.2,940.1 355,933.8 357.5,930.1 360.7,927.6 363.8,928.2 366.3,929.4 368.8,926.3 370.7,921.3 373.2,917.5 376.3,916.3 380.1,916.3 382.6,913.8 384.5,908.8 386.4,903.8 388.1,891 389.6,880.8 391,870.6 392.8,859 394.7,847.4 396.1,837.2 397.6,825.6 399,811 400.5,798 401.9,786.3 404.1,776.2 405.9,773 407.8,779.1 408.5,793.6 409.2,808.1 410.2,822.7 411.1,837.2 411.8,851.7 412.8,866.3 414,880.8 415,895.3 415.2,900 416.4,910 417.7,920.1 420.2,930.1 422.1,938.8 424,947.6 425.8,953.9 429,957.6 432.7,958.3 436.5,958.9 439,962.7 442.1,962.7 444,963.9 446.4,977.1 448.1,968.3 449.8,976.4 452.8,982.7 454.7,987.7 457.8,989.6 460.3,992.7 462.2,997.1 465.3,997.7 469.7,997.1 472.2,992.7 474.7,991.5 477.8,992.7 481,995.9 484.1,999 487.9,1002.8 490.4,1000.3 493.5,999 496.6,1000.3 499.1,1004 501.7,1007.8 505.4,1008.4 508.5,1009 511.7,1011.5 515.4,1009.6 518.6,1006.5 522.3,1005.3 525.5,1006.5 528,1009.6 531.7,1011.5 534.9,1012.2 538,1010.3 541.8,1010.3 544.9,1012.2 546.1,1021.6 547.4,1022.8 548.6,1016.5 553,1016.5 557.4,1015.9 559.6,1015.5 563.3,1017.7 566.3,1022.9 570,1025.9 574.4,1026.6 579.6,1026.6 581.8,1029.6 584.1,1031.1 586.3,1025.9 589.2,1022.9 592.2,1021.4 595.2,1023.7 598.1,1027.4 601.8,1029.6 605.5,1031.1 608.5,1032.5 610.7,1028.1 615.1,1028.1 619.6,1028.8 624,1029.6 627.7,1030.3 630,1032.5 634.4,1031.8 638.8,1032.5 641.8,1032.5 644,1028.1 647.7,1027.4 649.9,1029.6 652.2,1025.1 655.9,1025.9 660.3,1027.4 663.3,1031.1 665.5,1032.5 667,1027.4 670.7,1028.1 673.6,1025.9 676.6,1022.2 680.3,1019.2 682.5,1023.7 686.2,1022.9 688.2,1020 690,1028.8 691.7,1018.5 695.8,1017 699.5,1015.5 704,1016.3 708.4,1014.8 712.9,1011.8 716.6,1008.8 718.8,1005.1 721.8,1002.9 724.7,1004.4 726.9,1009.6 727.7,1015.5 731.4,1014 735.1,1013.3 738.8,1015.5 741.7,1021.4 743.2,1020.7 745.4,1014 748.4,1014.8 751.4,1019.2 754.3,1020.7 755.8,1024.4 758,1017 761,1020 763.9,1017 767.6,1013.3 770.6,1011.1 772.8,1016.3 774.3,1020.7 778,1021.4 781,1025.9 783.2,1028.1 785.4,1022.9 788.4,1025.9 791.3,1027.4 795.8,1023.7 800,1025.1 803.7,1025.9 806.7,1022.9 809.6,1023.7 812.6,1026.6 815.5,1023.7 818.5,1020.7 822.2,1020.7 825.2,1017.7 828.9,1016.3 831.8,1014.8 834.8,1016.3 836.4,1028.1 838.1,1017 842.2,1018.5 847.4,1019.2 851.1,1021.4 855.5,1021.4 858.5,1017 862.2,1016.3 865.1,1017 868.8,1014.8 874,1013.3 880,1013.3 883.7,1014.8 886.6,1020 888.8,1021.4 891.8,1017 895.5,1011.1 899.9,1011.8 904.4,1011.8 908.8,1008.1 912.5,1010.3 917,1008.1 921.4,1008.8 925.1,1009.6 928.8,1012.5 932.5,1011.1 934,1017.7 936.2,1018.5 937.7,1013.3 942.1,1014 945.8,1017.7 949.5,1018.5 953.2,1015.5 956.2,1011.1 959.2,1016.3 962.9,1014.8 967.3,1014.8 970.3,1012.5 972.5,1017 975.5,1010.3 979.2,1010.3 983.6,1008.8 987.3,1009.6 990.3,1014 992.5,1016.3 994.7,1011.8 997.7,1014.8 1000.6,1017 1003.6,1014 1005.8,1008.8 1009.5,1008.1 1013.2,1002.9 1017.6,1000.7 1021.4,999.2 1025.1,1002.2 1028.8,1002.2 1031.7,998.5 1036.2,997.7 1039.9,995.5 1043.6,990.3 1046.5,985.9 1050.2,982.2 1053,977 1055.9,972.6 1059.6,968.9 1064.1,968.1 1067.8,967.4 1070.7,963.7 1075.2,962.2 1079.6,962.2 1083.3,962.2 1087,964.4 1090,961.5 1094.4,961.5 1098.1,962.2 1101.1,966.7 1104.8,968.9 1108.5,972.6 1112.2,978.5 1114.4,984.4 1116.6,990.3 1118.8,996.3 1121.8,1000 1124.8,1000.7 1127,1000.7 1130.7,1002.9 1132.9,1006.6 1134.4,1012.5 1136.6,1008.1 1139.6,1008.1 1143.3,1011.1 1146.2,1017 1149.2,1017.7 1152.9,1016.3 1155.8,1015.5 1157.5,1024.4 1159.3,1014 1161.8,1014 1164.7,1018.5 1168.4,1021.4 1172.9,1020 1177.3,1020 1181.8,1019.2 1185.5,1017 1189.2,1016.3 1192.1,1019.2 1195.1,1015.5 1198.8,1017 1202.8,1018.5 1204.5,1042.2 1206.2,1022.9 1210.6,1019.2 1214.3,1020 1218.8,1019.2 1222.5,1017.7 1224.7,1022.2 1226.9,1016.3 1230.6,1018.5 1235.1,1017 1239.5,1016.3 1242.5,1021.4 1245.4,1022.9 1249.9,1023.7 1254.3,1022.9 1257.3,1022.2 1260.2,1026.6 1263.2,1024.4 1266.2,1022.9 1269.1,1023.7 1272.8,1020 1276.5,1020.7 1280.2,1016.3 1283.2,1019.2 1286.9,1022.2 1291.3,1024.4 1295.8,1025.9 1298,1028.1 1300,1025.1 1304.4,1027.4 1308.9,1023.7 1313.3,1025.1 1318.5,1023.7 1322.9,1020 1326.7,1022.9 1331.1,1022.2 1335.5,1022.2 1339.2,1024.4 1342.9,1026.6 1346.6,1022.2 1350.8,1022.9 1352.5,1042.2 1354.2,1028.8 1359.2,1022.9 1362.9,1018.5 1365.9,1019.2 1368.8,1025.1 1372.5,1025.9 1375.5,1024.4 1380,1027.4 1383.7,1031.8 1386.6,1031.1 1388.8,1022.9 1391.8,1024.4 1395.5,1027.4 1399.9,1028.8 1404.4,1027.4 1408.8,1029.6 1412.5,1025.9 1417,1024.4 1421.4,1025.1 1425.9,1027.4 1430.3,1027.4 1434.7,1024.4 1439.2,1025.9 1440.7,1031.8 1444.4,1031.8 1445.8,1023.7 1449.5,1022.9 1453.2,1023.7 1456.9,1026.6 1462.1,1028.8 1466.6,1028.1 1470.3,1028.1 1473.2,1024.4 1476.2,1021.4 1479.9,1024.4 1482.9,1027.4 1486.6,1023.7 1490.3,1021.4 1494,1022.2 1496.9,1027.4 1500.6,1028.8 1504.3,1029.6 1508.8,1031.1 1513.2,1028.8 1517.6,1027.4 1522.1,1029.6 1526.5,1027.4 1532.5,1025.9 1536.9,1028.1 1540.6,1027.4 1541.9,1027.4 1546.3,1028.8 1550,1031.8 1553.7,1034 1556.7,1028.8 1559.7,1027.4 1563.4,1031.1 1567.8,1034 1571.5,1031.1 1576,1030.3 1581.1,1030.3 1585.6,1027.4 1590,1025.1 1593.7,1028.8 1598.2,1030.3 1602.6,1028.8 1606.3,1028.1 1610,1029.6 1614.4,1028.1 1618.9,1027.4 1623.3,1028.1 1627,1030.3 1631.5,1029.6 1635.2,1030.3 1638.1,1027.4 1641.1,1025.9 1644.8,1028.1 1647,1031.8 1649.2,1036.2 1651.5,1031.8 1655.2,1029.6 1658.9,1029.6 1662.6,1031.1 1666.3,1028.8 1670.7,1028.1"/>
</g>
<line class="d" x1="201.4" y1="437.2" x2="206.9" y2="883.4"/>
<line class="d" x1="289.6" y1="437.4" x2="289.9" y2="980.1"/>
<line class="d" x1="401.9" y1="232.2" x2="402.0" y2="959.6"/>
<line class="d" x1="723.0" y1="452.8" x2="721.6" y2="1043.4"/>
<line class="d" x1="1071.7" y1="468.2" x2="1072.3" y2="1006.6"/>
<text transform="translate(212.0,1258.2) scale(0.940,1.014)" font-size="63.5" text-anchor="middle">100</text>
<text transform="translate(374.1,1258.2) scale(0.940,1.014)" font-size="63.5" text-anchor="middle">200</text>
<text transform="translate(536.1,1258.2) scale(0.940,1.014)" font-size="63.5" text-anchor="middle">300</text>
<text transform="translate(698.2,1258.2) scale(0.940,1.014)" font-size="63.5" text-anchor="middle">400</text>
<text transform="translate(860.3,1258.2) scale(0.940,1.014)" font-size="63.5" text-anchor="middle">500</text>
<text transform="translate(1022.4,1258.2) scale(0.940,1.014)" font-size="63.5" text-anchor="middle">600</text>
<text transform="translate(1184.4,1258.2) scale(0.940,1.014)" font-size="63.5" text-anchor="middle">700</text>
<text transform="translate(1346.5,1258.2) scale(0.940,1.014)" font-size="63.5" text-anchor="middle">800</text>
<text transform="translate(1508.6,1258.2) scale(0.940,1.014)" font-size="63.5" text-anchor="middle">900</text>
<text transform="translate(1670.6,1258.2) scale(0.940,1.014)" font-size="63.5" text-anchor="middle">1000</text>
<text transform="scale(0.952,1)" font-size="68" word-spacing="1.4"><tspan x="665.1" y="1342.5">Raman shift</tspan><tspan x="984.8" y="1342.6" font-size="70">（</tspan><tspan x="1051.9" y="1342.5" letter-spacing="1.2">cm</tspan><tspan x="1135.6" y="1308.9" font-size="36.5" letter-spacing="0">-1</tspan><tspan x="1166.2" y="1342.6" font-size="70">）</tspan></text>
<text transform="translate(71.5,873.6) rotate(-90) scale(1.011,0.990)" font-size="66">Intensity(counts)</text>
<text transform="translate(168.7,409.1) scale(0.909,1.000)" font-size="68.6">94</text>
<text transform="translate(239.2,409.9) scale(0.927,1.000)" font-size="68.6">148</text>
<text transform="translate(355.0,212.2) scale(0.971,1.000)" font-size="68.6">218</text>
<text transform="translate(675.6,413.0) scale(0.941,1.000)" font-size="68.6">414</text>
<text transform="translate(1014.8,449.0) scale(0.945,1.000)" font-size="68.6">631</text>
<text transform="translate(1478.5,508.0) scale(1.002,0.977)" font-size="68.6">a</text>
<text transform="translate(1486.2,776.1) scale(0.952,0.928)" font-size="68.6">b</text>
<text transform="translate(1487.9,997.1) scale(0.961,0.975)" font-size="68.6">c</text>
</svg>
</body></html>
